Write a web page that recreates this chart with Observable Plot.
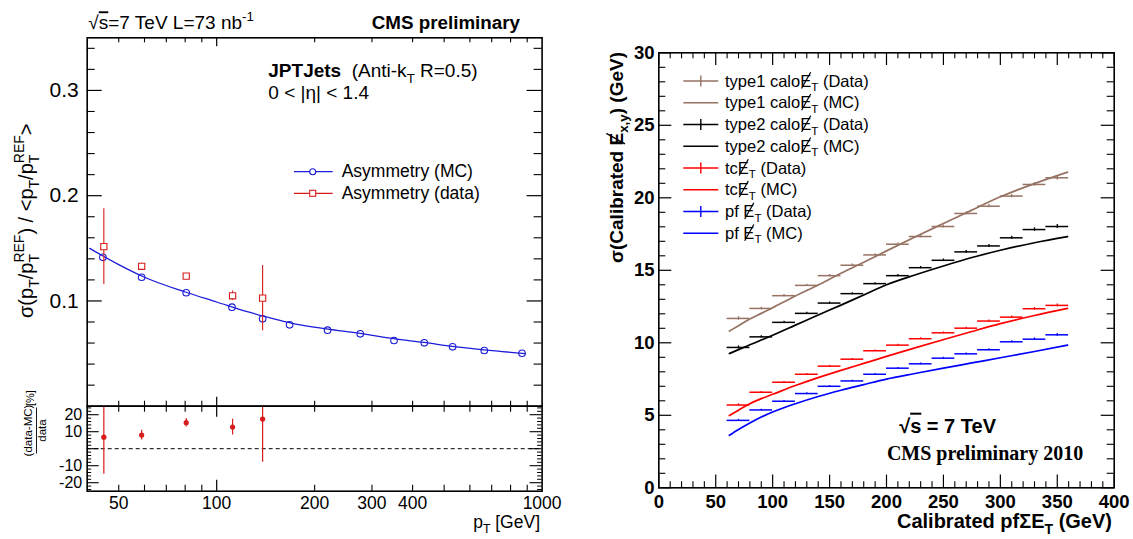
<!DOCTYPE html>
<html><head><meta charset="utf-8">
<script src="https://cdn.jsdelivr.net/npm/d3@7"></script>
<script src="https://cdn.jsdelivr.net/npm/@observablehq/plot@0.6"></script>
<style>
html,body{margin:0;padding:0;background:#fff;}
#fig{position:relative;width:1133px;height:539px;overflow:hidden;background:#fff;}
</style></head><body><div id="fig"></div>
<script>
// ================= DATA: left panel (JPT jets asymmetry) =================
const mcPt      = [44.7, 58.8, 80.6, 111.4, 138.4, 167.5, 219.1, 276.2, 350.7, 434.5, 530.9, 664.3, 867.6];
const mcAsym    = [0.1414, 0.1225, 0.1078, 0.0941, 0.0830, 0.0773, 0.0722, 0.0688, 0.0624, 0.0602, 0.0564, 0.0529, 0.0503];
const fitPt     = [40.7, 50, 60, 80, 100, 125, 150, 175, 220, 276, 350, 434, 531, 664, 888];
const fitAsym   = [0.1500, 0.1345, 0.1225, 0.1085, 0.0990, 0.0895, 0.0830, 0.0780, 0.0733, 0.0692, 0.0641, 0.0606, 0.0568, 0.0535, 0.0500];
const dataPt    = [45.0, 58.8, 80.6, 111.9, 138.4];
const dataAsym  = [0.1516, 0.1329, 0.1236, 0.1049, 0.1027];
const dataErr   = [0.036, 0.003, 0.002, 0.0045, 0.031];
const ratioVal  = [6.8, 8.0, 15.3, 12.7, 17.4];
const ratioErr  = [21.9, 2.9, 2.5, 4.6, 25.3];
const mainYTicks  = [0.1, 0.2, 0.3];
const ratioYTicks = [20, 10, -10, -20];
const ratioXTicks = [50, 100, 200, 300, 400, 1000];
const leftLegend  = ["Asymmetry (MC)", "Asymmetry (data)"];

// ================= DATA: right panel (MET resolution) =================
const binLo = [60, 80, 100, 120, 140, 160, 180, 200, 220, 240, 260, 280, 300, 320, 340];
const binHi = [80, 100, 120, 140, 160, 180, 200, 220, 240, 260, 280, 300, 320, 340, 360];
const type1Data = [11.68, 12.37, 13.25, 13.96, 14.63, 15.35, 16.06, 16.80, 17.33, 18.02, 18.92, 19.42, 20.12, 20.92, 21.38];
const type2Data = [9.68, 10.41, 11.41, 12.03, 12.74, 13.39, 14.08, 14.63, 15.18, 15.69, 16.27, 16.68, 17.24, 17.81, 18.02];
const tcData    = [5.71, 6.59, 7.28, 7.83, 8.39, 8.87, 9.45, 9.84, 10.28, 10.69, 11.01, 11.50, 11.77, 12.35, 12.58];
const pfData    = [4.65, 5.37, 5.97, 6.50, 7.00, 7.37, 7.83, 8.25, 8.55, 8.94, 9.24, 9.52, 10.07, 10.25, 10.55];
const type1Err  = [0.12, 0.09, 0.08, 0.08, 0.08, 0.08, 0.08, 0.09, 0.09, 0.10, 0.10, 0.11, 0.11, 0.13, 0.15];
const type2Err  = [0.11, 0.08, 0.07, 0.07, 0.07, 0.07, 0.07, 0.08, 0.08, 0.09, 0.09, 0.10, 0.10, 0.12, 0.14];
const tcErr     = [0.08, 0.06, 0.05, 0.05, 0.05, 0.05, 0.05, 0.06, 0.06, 0.06, 0.07, 0.07, 0.08, 0.09, 0.10];
const pfErr     = [0.07, 0.05, 0.05, 0.05, 0.05, 0.05, 0.05, 0.05, 0.06, 0.06, 0.06, 0.07, 0.07, 0.08, 0.09];
const mcSumEt   = [62, 70, 80, 90, 100, 120, 140, 160, 180, 200, 225, 250, 275, 300, 330, 359];
const type1MC   = [10.81, 11.18, 11.64, 12.03, 12.42, 13.23, 13.99, 14.79, 15.55, 16.34, 17.30, 18.23, 19.15, 20.07, 20.98, 21.77];
const type2MC   = [9.26, 9.53, 9.86, 10.19, 10.52, 11.22, 11.92, 12.60, 13.30, 14.00, 14.68, 15.30, 15.88, 16.38, 16.90, 17.32];
const tcMC      = [4.98, 5.35, 5.80, 6.15, 6.45, 7.05, 7.60, 8.10, 8.58, 9.06, 9.65, 10.22, 10.78, 11.32, 11.88, 12.37];
const pfMC      = [3.62, 4.02, 4.47, 4.88, 5.23, 5.80, 6.30, 6.73, 7.12, 7.50, 7.88, 8.25, 8.61, 8.97, 9.40, 9.84];
const rightXTicks = [0, 50, 100, 150, 200, 250, 300, 350, 400];
const rightYTicks = [0, 5, 10, 15, 20, 25, 30];
const seriesNames = ["type1 calo", "type2 calo", "tc", "pf "];

// ================= styling =================
const SANS = "'Liberation Sans', Arial, Helvetica, sans-serif";
const SERIF = "'Liberation Serif', 'Times New Roman', serif";
const BLUE = "#1c1cd8", RED = "#d81c1c";
const BROWN = "#967363", BLACK = "#000000", TRED = "#ff0000", TBLUE = "#0000ff";
const seriesColors = [BROWN, BLACK, TRED, TBLUE];

const fig = document.getElementById("fig");
function put(node, left, top) {
  node.style.position = "absolute";
  node.style.left = left + "px";
  node.style.top = top + "px";
  fig.appendChild(node);
}
const baseStyle = {background: "transparent", fontFamily: SANS, color: "#000", overflow: "visible"};

// ================= LEFT MAIN PANEL =================
const LM = {l: 86.7, r: 541.6, t: 37.3, b: 405.7};
const W1 = 580, H1 = 410;
const fw1 = LM.r - LM.l, fh1 = LM.b - LM.t;
const xMinorLog = [50, 60, 70, 80, 90, 200, 300, 400, 500, 600, 700, 800, 900];
const xMajorLog = [100];
const mainYMinor = d3.range(1, 18).filter(i => i % 5).map(i => +(i * 0.02).toFixed(2));

const mc = mcPt.map((x, i) => ({x, y: mcAsym[i]}));
const fit = fitPt.map((x, i) => ({x, y: fitAsym[i]}));
const dat = dataPt.map((x, i) => ({x, y: dataAsym[i], e: dataErr[i]}));
const rat = dataPt.map((x, i) => ({x, y: ratioVal[i], e: ratioErr[i]}));

const mainPlot = Plot.plot({
  width: W1, height: H1,
  marginLeft: LM.l, marginRight: W1 - LM.r, marginTop: LM.t, marginBottom: H1 - LM.b,
  style: baseStyle,
  x: {type: "log", domain: [40, 1000], axis: null},
  y: {domain: [0, 0.35]},
  marks: [
    Plot.tickY(mainYTicks, {y: d => d, insetRight: fw1 - 15, strokeWidth: 1.2}),
    Plot.tickY(mainYTicks, {y: d => d, insetLeft: fw1 - 15, strokeWidth: 1.2}),
    Plot.tickY(mainYMinor, {y: d => d, insetRight: fw1 - 8, strokeWidth: 1.1}),
    Plot.tickY(mainYMinor, {y: d => d, insetLeft: fw1 - 8, strokeWidth: 1.1}),
    Plot.tickX(xMajorLog, {x: d => d, insetBottom: fh1 - 9, strokeWidth: 1.2}),
    Plot.tickX(xMajorLog, {x: d => d, insetTop: fh1 - 9, strokeWidth: 1.2}),
    Plot.tickX(xMinorLog, {x: d => d, insetBottom: fh1 - 5, strokeWidth: 1.1}),
    Plot.tickX(xMinorLog, {x: d => d, insetTop: fh1 - 5, strokeWidth: 1.1}),
    Plot.axisY({ticks: mainYTicks, tickSize: 0, tickPadding: 8.4, fontSize: 21, tickFormat: d => d.toFixed(1), label: null}),
    Plot.line(fit, {x: "x", y: "y", stroke: BLUE, strokeWidth: 1.3, curve: "monotone-x"}),
    Plot.dot(mc, {x: "x", y: "y", r: 3.3, stroke: BLUE, fill: "none", strokeWidth: 1.1}),
    Plot.ruleX(dat, {x: "x", y1: d => d.y - d.e, y2: d => d.y + d.e, stroke: RED, strokeWidth: 1.1}),
    Plot.dot(dat, {x: "x", y: "y", symbol: "square", r: 3.5, stroke: RED, fill: "white", strokeWidth: 1.1}),
    Plot.frame({stroke: "#000", strokeWidth: 1.6})
  ]
});
put(mainPlot, 0, 0);

// ================= LEFT RATIO PANEL =================
const RT = {t: 405.7, b: 490.7};
const topR = 398, H1r = 539 - topR;
const fhr = RT.b - RT.t;
const ratioYMajor = [-20, -10, 0, 10, 20];
const ratioYMinor = d3.range(-24, 25, 2).filter(v => v % 10 !== 0);
const ratioPlot = Plot.plot({
  width: W1, height: H1r,
  marginLeft: LM.l, marginRight: W1 - LM.r, marginTop: RT.t - topR, marginBottom: topR + H1r - RT.b,
  style: baseStyle,
  x: {type: "log", domain: [40, 1000]},
  y: {domain: [-25, 25]},
  marks: [
    Plot.tickY(ratioYMajor, {y: d => d, insetRight: fw1 - 12, strokeWidth: 1.1}),
    Plot.tickY(ratioYMajor, {y: d => d, insetLeft: fw1 - 12, strokeWidth: 1.1}),
    Plot.tickY(ratioYMinor, {y: d => d, insetRight: fw1 - 4.5, strokeWidth: 1}),
    Plot.tickY(ratioYMinor, {y: d => d, insetLeft: fw1 - 4.5, strokeWidth: 1}),
    Plot.tickX(xMajorLog, {x: d => d, insetBottom: fhr - 11, strokeWidth: 1.2}),
    Plot.tickX(xMajorLog, {x: d => d, insetTop: fhr - 11, strokeWidth: 1.2}),
    Plot.tickX(xMinorLog, {x: d => d, insetBottom: fhr - 6, strokeWidth: 1.1}),
    Plot.tickX(xMinorLog, {x: d => d, insetTop: fhr - 6, strokeWidth: 1.1}),
    Plot.axisY({ticks: ratioYTicks, tickSize: 0, tickPadding: 5, fontSize: 16, tickFormat: d => String(d), label: null}),
    Plot.axisX({ticks: ratioXTicks, tickSize: 0, tickPadding: 5, fontSize: 17.5, tickFormat: d => String(d), label: null}),
    Plot.ruleY([0], {stroke: "#000", strokeWidth: 1, strokeDasharray: "4,3"}),
    Plot.ruleX(rat, {x: "x", y1: d => d.y - d.e, y2: d => d.y + d.e, stroke: RED, strokeWidth: 1.2, clip: true}),
    Plot.dot(rat, {x: "x", y: "y", r: 2.6, fill: RED, stroke: "none"}),
    Plot.frame({stroke: "#000", strokeWidth: 1.6})
  ]
});
put(ratioPlot, 0, topR);

// ================= RIGHT PANEL =================
const RP = {l: 658.3, r: 1113.7, t: 52.3, b: 487.3};
const X2 = 580, W2 = 553, H2 = 539;
const fw2 = RP.r - RP.l, fh2 = RP.b - RP.t;
const rxMinor = d3.range(10, 400, 10).filter(v => v % 50 !== 0);
const ryMinor = d3.range(1, 30).filter(v => v % 5 !== 0);
const seriesData = [type1Data, type2Data, tcData, pfData];
const seriesErr = [type1Err, type2Err, tcErr, pfErr];
const seriesMC = [type1MC, type2MC, tcMC, pfMC];
const dataMarks = [];
seriesData.forEach((vals, s) => {
  const rows = vals.map((v, i) => ({lo: binLo[i], hi: binHi[i], c: (binLo[i] + binHi[i]) / 2, v, e: seriesErr[s][i]}));
  const curve = mcSumEt.map((x, i) => ({x, y: seriesMC[s][i]}));
  dataMarks.push(
    Plot.line(curve, {x: "x", y: "y", stroke: seriesColors[s], strokeWidth: 1.7, curve: "monotone-x"}),
    Plot.ruleY(rows, {y: "v", x1: "lo", x2: "hi", stroke: seriesColors[s], strokeWidth: 1.5}),
    Plot.ruleX(rows, {x: "c", y1: d => d.v - d.e, y2: d => d.v + d.e, stroke: seriesColors[s], strokeWidth: 1.3})
  );
});
const rightPlot = Plot.plot({
  width: W2, height: H2,
  marginLeft: RP.l - X2, marginRight: X2 + W2 - RP.r, marginTop: RP.t, marginBottom: H2 - RP.b,
  style: baseStyle,
  x: {domain: [0, 400]},
  y: {domain: [0, 30]},
  marks: [
    Plot.tickY(rightYTicks, {y: d => d, insetRight: fw2 - 13, strokeWidth: 1.2}),
    Plot.tickY(rightYTicks, {y: d => d, insetLeft: fw2 - 13, strokeWidth: 1.2}),
    Plot.tickY(ryMinor, {y: d => d, insetRight: fw2 - 7, strokeWidth: 1.1}),
    Plot.tickY(ryMinor, {y: d => d, insetLeft: fw2 - 7, strokeWidth: 1.1}),
    Plot.tickX(rightXTicks, {x: d => d, insetBottom: fh2 - 12.7, strokeWidth: 1.2}),
    Plot.tickX(rightXTicks, {x: d => d, insetTop: fh2 - 12.7, strokeWidth: 1.2}),
    Plot.tickX(rxMinor, {x: d => d, insetBottom: fh2 - 6, strokeWidth: 1.1}),
    Plot.tickX(rxMinor, {x: d => d, insetTop: fh2 - 6, strokeWidth: 1.1}),
    Plot.axisY({ticks: rightYTicks, tickSize: 0, tickPadding: 4.3, fontSize: 18.5, fontWeight: "bold", tickFormat: d => String(d), label: null}),
    Plot.axisX({ticks: rightXTicks, tickSize: 0, tickPadding: 7, fontSize: 18.5, fontWeight: "bold", tickFormat: d => String(d), label: null}),
    ...dataMarks,
    Plot.frame({stroke: "#000", strokeWidth: 1.6})
  ]
});
put(rightPlot, X2, 0);

// ================= TEXT OVERLAY =================
const ov = d3.create("svg").attr("width", 1133).attr("height", 539)
  .style("position", "absolute").style("left", "0px").style("top", "0px").style("overflow", "visible");

const slashes = []; // {text, index, size, weight}
function rich(g, x, y, parts, o = {}) {
  const size = o.size || 16;
  const t = g.append("text").attr("x", x).attr("y", y)
    .attr("font-size", size).attr("font-family", o.family || SANS)
    .attr("font-weight", o.weight || "normal").attr("text-anchor", o.anchor || "start")
    .attr("fill", o.fill || "#000").style("white-space", "pre");
  if (o.rotate) t.attr("transform", `rotate(${o.rotate},${x},${y})`);
  let cur = 0, nchar = 0;
  for (const p of parts) {
    const q = typeof p === "string" ? {t: p} : p;
    const k = q.k || "n";
    const shift = k === "sub" ? 0.28 * size : k === "sup" ? -0.45 * size : 0;
    const ts = t.append("tspan").text(q.t);
    if (shift !== cur) { ts.attr("dy", shift - cur); cur = shift; }
    if (k !== "n") ts.attr("font-size", size * 0.7);
    if (q.dx) ts.attr("dx", q.dx);
    if (q.w) ts.attr("font-weight", q.w);
    if (q.deco) ts.style("text-decoration", q.deco);
    if (q.slash) slashes.push({t, index: nchar, size, y, transform: t.attr("transform")});
    nchar += q.t.length;
  }
  return t;
}
const slashE = {t: "E", slash: true};

// left panel texts
rich(ov, 88.3, 29.3, ["√", {t: "s", deco: "overline"}, "=7 TeV L=73 nb", {t: "-1", k: "sup"}], {size: 19});
rich(ov, 520, 29.3, ["CMS preliminary"], {size: 18.8, weight: "bold", anchor: "end"});
rich(ov, 268.3, 77.3, [{t: "JPTJets", w: "bold"}, "  (Anti-k", {t: "T", k: "sub"}, " R=0.5)"], {size: 19});
rich(ov, 268.3, 99, ["0 < |η| < 1.4"], {size: 19});
// left legend
ov.append("line").attr("x1", 294).attr("x2", 332.7).attr("y1", 171.7).attr("y2", 171.7).attr("stroke", BLUE).attr("stroke-width", 1.3);
ov.append("circle").attr("cx", 312.7).attr("cy", 171.7).attr("r", 3).attr("fill", "white").attr("stroke", BLUE).attr("stroke-width", 1.1);
ov.append("line").attr("x1", 294).attr("x2", 332.7).attr("y1", 193.3).attr("y2", 193.3).attr("stroke", RED).attr("stroke-width", 1.3);
ov.append("rect").attr("x", 309.7).attr("y", 190.3).attr("width", 6).attr("height", 6).attr("fill", "white").attr("stroke", RED).attr("stroke-width", 1.1);
rich(ov, 341.7, 177, [leftLegend[0]], {size: 17.5});
rich(ov, 341.7, 198.6, [leftLegend[1]], {size: 17.5});
// left y label
const ysz = 20, tw = 0.611 * 0.7 * ysz;
rich(ov, 33.3, 318, ["σ(p", {t: "T", k: "sub"}, "/p", {t: "T", k: "sub"}, {t: "REF", k: "sup", dx: -tw}, ") / <p",
  {t: "T", k: "sub"}, "/p", {t: "T", k: "sub"}, {t: "REF", k: "sup", dx: -tw}, ">"], {size: ysz, rotate: -90});
// ratio y label (fraction)
rich(ov, 31.5, 430.5, ["(data-MC)"], {size: 11.5, rotate: -90, anchor: "middle"});
rich(ov, 46, 430.5, ["data"], {size: 11.5, rotate: -90, anchor: "middle"});
ov.append("line").attr("x1", 36.5).attr("x2", 36.5).attr("y1", 407.5).attr("y2", 453.5).attr("stroke", "#000").attr("stroke-width", 0.9);
rich(ov, 34, 406, ["[%]"], {size: 11, rotate: -90});
// left x label
rich(ov, 540, 528, ["p", {t: "T", k: "sub"}, " [GeV]"], {size: 17.5, anchor: "end"});

// right panel texts
const rys = 19;
rich(ov, 622.7, 52, ["σ(Calibrated ", slashE, {t: "x,y", k: "sub"}, ") (GeV)"], {size: rys, weight: "bold", rotate: -90, anchor: "end"});
rich(ov, 1112, 528.3, ["Calibrated pfΣE", {t: "T", k: "sub"}, " (GeV)"], {size: 20, weight: "bold", anchor: "end"});
rich(ov, 899.2, 432.7, ["√", {t: "s", deco: "overline"}, " = 7 TeV"], {size: 20, weight: "bold"});
rich(ov, 886.9, 460, ["CMS preliminary 2010"], {size: 20, weight: "bold", family: SERIF});
// right legend
const lgs = 16.5;
for (let i = 0; i < 8; i++) {
  const s = Math.floor(i / 2), isData = i % 2 === 0;
  const y = 81 + 21.75 * i;
  ov.append("line").attr("x1", 683.3).attr("x2", 718.3).attr("y1", y).attr("y2", y)
    .attr("stroke", seriesColors[s]).attr("stroke-width", 1.6);
  if (isData) ov.append("line").attr("x1", 700.8).attr("x2", 700.8).attr("y1", y - 5.5).attr("y2", y + 5.5)
    .attr("stroke", seriesColors[s]).attr("stroke-width", 1.4);
  rich(ov, 725, y + 5.5, [seriesNames[s], slashE, {t: "T", k: "sub"}, isData ? " (Data)" : " (MC)"], {size: lgs});
}
fig.appendChild(ov.node());

// draw the slash of each "E-slash" as a stroke over the measured E glyph
for (const s of slashes) {
  const node = s.t.node();
  let ext;
  try { ext = node.getExtentOfChar(s.index); } catch (e) { continue; }
  const x0 = ext.x + ext.width * 0.12, x1 = ext.x + ext.width * 0.95;
  const yb = s.y + 0.12 * s.size, yt = s.y - 0.86 * s.size;
  const ln = ov.append("line").attr("x1", x0).attr("y1", yb).attr("x2", x1).attr("y2", yt)
    .attr("stroke", "#000").attr("stroke-width", Math.max(1, s.size * 0.075));
  if (s.transform) ln.attr("transform", s.transform);
}
</script>
</body></html>
